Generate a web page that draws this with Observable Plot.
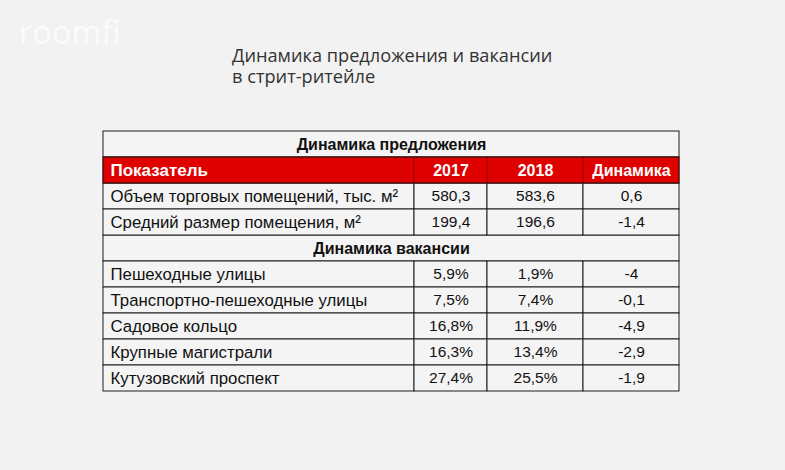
<!DOCTYPE html>
<html><head><meta charset="utf-8">
<script src="https://cdn.jsdelivr.net/npm/d3@7"></script>
<script src="https://cdn.jsdelivr.net/npm/@observablehq/plot@0.6"></script>
<style>
html,body{margin:0;padding:0;background:#f2f2f2;}
#wrap{position:relative;width:785px;height:470px;overflow:hidden;background:#f2f2f2;}
#chart{position:absolute;left:0;top:0;}
#logo{position:absolute;left:19px;top:14px;font:400 32px/36px "Open Sans";color:#fbfbfb;letter-spacing:0.3px;}
#title{position:absolute;left:232px;top:45px;font:400 18.2px/21px "Open Sans";color:#333;}
#title div{height:21px;overflow:visible;white-space:nowrap;}
</style></head><body>
<div id="wrap"><div id="chart"></div><div id="logo">roomfi</div><div id="title"><div>Динамика предложения и вакансии</div><div>в стрит-ритейле</div></div></div>
<script>
// ---- data ----
const columns = ["Показатель", "2017", "2018", "Динамика"];
const supplyTitle = "Динамика предложения";
const vacancyTitle = "Динамика вакансии";
const supplyRows = ["Объем торговых помещений, тыс. м²", "Средний размер помещения, м²"];
const supply2017 = [580.3, 199.4];
const supply2018 = [583.6, 196.6];
const supplyChange = [0.6, -1.4];
const vacancyRows = ["Пешеходные улицы", "Транспортно-пешеходные улицы", "Садовое кольцо", "Крупные магистрали", "Кутузовский проспект"];
const vacancy2017 = [5.9, 7.5, 16.8, 16.3, 27.4];
const vacancy2018 = [1.9, 7.4, 11.9, 13.4, 25.5];
const vacancyChange = [-4, -0.1, -4.9, -2.9, -1.9];

// ---- layout ----
const colEdges = [103, 414, 487, 583, 679];
const L = colEdges[0], R = colEdges[colEdges.length - 1];
const RED = "#df0000", LINE = "#1c1c1c", CELL = "#f4f4f4";

const num = v => String(v).replace(".", ",");
const pct = v => num(v) + "%";

const rows = [];
rows.push({key: "s1", kind: "section", label: supplyTitle});
rows.push({key: "hdr", kind: "header", cells: columns});
supplyRows.forEach((r, i) => rows.push({key: "a" + i, kind: "data",
  cells: [r, num(supply2017[i]), num(supply2018[i]), num(supplyChange[i])]}));
rows.push({key: "s2", kind: "section", label: vacancyTitle});
vacancyRows.forEach((r, i) => rows.push({key: "b" + i, kind: "data",
  cells: [r, pct(vacancy2017[i]), pct(vacancy2018[i]), num(vacancyChange[i])]}));

const sections = rows.filter(d => d.kind === "section");
const cells = rows.filter(d => d.cells).flatMap(r => r.cells.map((t, c) => ({
  key: r.key, kind: r.kind, col: c, text: t, x1: colEdges[c], x2: colEdges[c + 1]
})));
const headerCells = cells.filter(d => d.kind === "header");
const dataCells = cells.filter(d => d.kind === "data");
const headerRow = rows.filter(d => d.kind === "header");

const chart = Plot.plot({
  width: 785, height: 470,
  margin: 0,
  x: {domain: [0, 785], range: [0, 785], axis: null},
  y: {type: "band", domain: rows.map(d => d.key), range: [131, 391], padding: 0, axis: null},
  style: {background: "transparent", fontFamily: "Liberation Sans, Arial, sans-serif"},
  marks: [
    Plot.barX(sections, {x1: () => L, x2: () => R, y: "key", fill: CELL, stroke: LINE}),
    Plot.barX(dataCells, {x1: "x1", x2: "x2", y: "key", fill: CELL, stroke: LINE}),
    Plot.barX(headerCells, {x1: "x1", x2: "x2", y: "key", fill: RED, stroke: "#9e0000"}),
    Plot.barX(headerRow, {x1: () => L, x2: () => R, y: "key", fill: "none", stroke: LINE}),
    Plot.text(sections, {x: () => (L + R) / 2, y: "key", text: "label", fontWeight: "bold", fontSize: 16, fill: "#111"}),
    Plot.text(headerCells.filter(d => d.col === 0), {x: d => d.x1 + 7, y: "key", text: "text", textAnchor: "start", fontWeight: "bold", fontSize: 17, fill: "#fff"}),
    Plot.text(headerCells.filter(d => d.col > 0), {x: d => (d.x1 + d.x2) / 2, y: "key", text: "text", fontWeight: "bold", fontSize: 16, fill: "#fff"}),
    Plot.text(dataCells.filter(d => d.col === 0), {x: d => d.x1 + 7, y: "key", text: "text", textAnchor: "start", fontSize: 16.8, fill: "#111"}),
    Plot.text(dataCells.filter(d => d.col > 0), {x: d => (d.x1 + d.x2) / 2, y: "key", text: "text", fontSize: 15.5, fill: "#111"})
  ]
});
document.getElementById("chart").appendChild(chart);
</script>
</body></html>
